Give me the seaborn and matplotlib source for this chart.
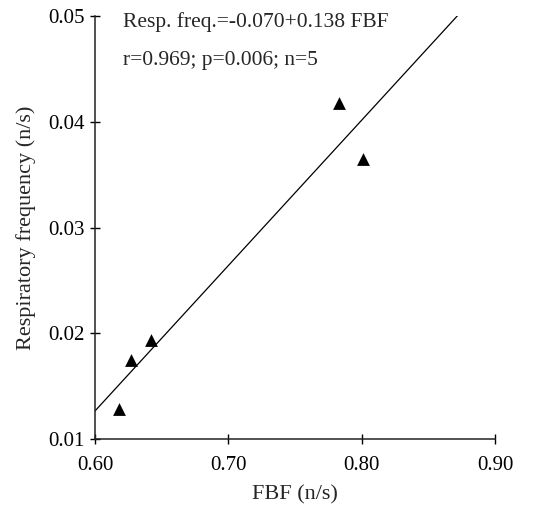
import numpy as np
import pandas as pd
import matplotlib
matplotlib.use("Agg")
import matplotlib.pyplot as plt
import seaborn as sns

# values
fbf = [0.618, 0.627, 0.642, 0.783, 0.801]
resp_freq = [0.0128, 0.0175, 0.0194, 0.0418, 0.0365]
x_ticks = [0.60, 0.70, 0.80, 0.90]
y_ticks = [0.01, 0.02, 0.03, 0.04, 0.05]
eq_text = "Resp. freq.=-0.070+0.138 FBF"
stat_text = "r=0.969; p=0.006; n=5"

df = pd.DataFrame({"FBF": fbf, "Resp": resp_freq})

sns.set_style("ticks")
plt.rcParams["font.family"] = ["Liberation Serif", "DejaVu Serif"]

fig = plt.figure(figsize=(5.44, 5.08), dpi=100)
ax = fig.add_axes([0.1746, 0.1358, 0.7353, 0.8327])

ax.set_xlim(x_ticks[0], x_ticks[-1])
ax.set_ylim(y_ticks[0], y_ticks[-1])

# fitted line across the full x range, clipped by the top of the axes
sns.regplot(data=df, x="FBF", y="Resp", scatter=False, ci=None, truncate=False,
            color="black", line_kws=dict(linewidth=0.9), ax=ax)
sns.scatterplot(data=df, x="FBF", y="Resp", marker="^", color="black",
                s=85, edgecolor="black", linewidth=0, ax=ax, zorder=3)

ax.set_xticks(x_ticks)
ax.set_yticks(y_ticks)
ax.set_xticklabels([f"{v:.2f}" for v in x_ticks])
ax.set_yticklabels([f"{v:.2f}" for v in y_ticks])
ax.tick_params(direction="inout", length=7, width=1.0, labelsize=15, colors="black")
ax.tick_params(axis="x", pad=9)
ax.tick_params(axis="y", pad=4)

for side in ["top", "right"]:
    ax.spines[side].set_visible(False)
for side in ["left", "bottom"]:
    ax.spines[side].set_linewidth(1.1)
    ax.spines[side].set_color("#222222")

ax.set_xlabel("FBF (n/s)", fontsize=16, labelpad=7)
ax.set_ylabel("Respiratory frequency (n/s)", fontsize=16, labelpad=9)

ax.text(0.07, 0.986, eq_text, transform=ax.transAxes, fontsize=15.5, va="center", ha="left")
ax.text(0.07, 0.894, stat_text, transform=ax.transAxes, fontsize=15.5, va="center", ha="left")

fig.savefig("out.png", dpi=100)
